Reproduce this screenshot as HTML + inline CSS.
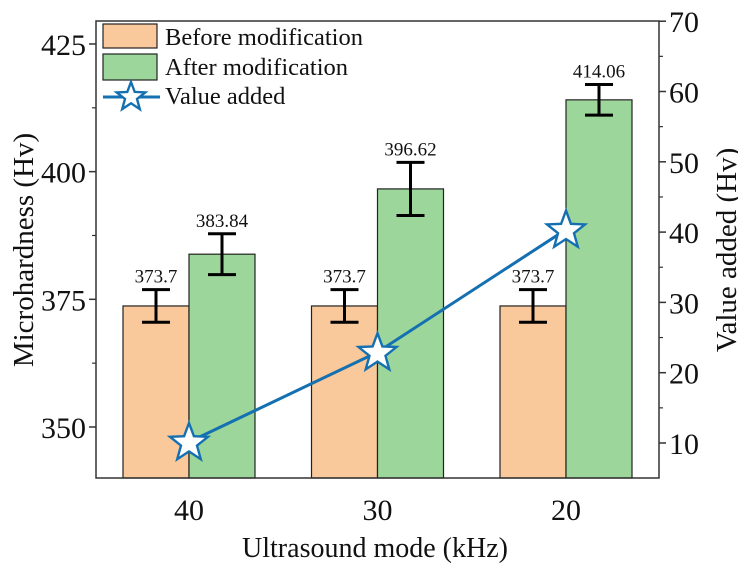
<!DOCTYPE html>
<html><head><meta charset="utf-8"><style>
body{margin:0;background:#fff}
svg{display:block;font-family:"Liberation Serif",serif}
</style></head><body>
<svg id="c" width="738" height="567"></svg>
<script>
const categories=["40","30","20"];
const before=[373.7,373.7,373.7];
const beforeErr=[3.2,3.2,3.2];
const after=[383.84,396.62,414.06];
const afterErr=[4,5.2,3];
const added=[10.14,22.92,40.36];
const leftTicks=[350,375,400,425];
const rightTicks=[10,20,30,40,50,60,70];
const NS="http://www.w3.org/2000/svg";
const svg=document.getElementById('c');
const L=96,R=659,T=21,B=478;
const yL=v=>427-(v-350)*5.107;
const yR=v=>443-(v-10)*7.03;
const xC=i=>189+i*188.5;
const bw=66;
function el(tag,attrs,parent){const e=document.createElementNS(NS,tag);for(const k in attrs)e.setAttribute(k,attrs[k]);(parent||svg).appendChild(e);return e;}
function txt(s,attrs){const e=el('text',attrs);e.textContent=s;return e;}
categories.forEach((c,i)=>{
 const x=xC(i);
 let b=el('rect',{x:x-bw,y:yL(before[i]),width:bw,height:B-yL(before[i]),fill:'#f9c89b',stroke:'#222','stroke-width':1.2});
 
 
 let a=el('rect',{x:x,y:yL(after[i]),width:bw,height:B-yL(after[i]),fill:'#9dd69b',stroke:'#222','stroke-width':1.2});
 
 
 [[x-bw/2,before[i],beforeErr[i],'before'],[x+bw/2,after[i],afterErr[i],'after']].forEach(([cx,v,e,n])=>{
  const g=el('g',{stroke:'#000','stroke-width':3,fill:'none'});
  
  
  el('line',{x1:cx,x2:cx,y1:yL(v+e),y2:yL(v-e)},g);
  el('line',{x1:cx-14,x2:cx+14,y1:yL(v+e),y2:yL(v+e)},g);
  el('line',{x1:cx-14,x2:cx+14,y1:yL(v-e),y2:yL(v-e)},g);
  const t=txt(String(v),{x:cx,y:yL(v+e)-7,'text-anchor':'middle','font-size':19,fill:'#111'});
  
  
 });
 const xl=txt(c,{x:x,y:B+42,'text-anchor':'middle','font-size':30,fill:'#111'});
 
 
});
const fr=el('rect',{x:L,y:T,width:R-L,height:B-T,fill:'none',stroke:'#333','stroke-width':1.5});


leftTicks.forEach(v=>{
 el('line',{x1:L-7,x2:L,y1:yL(v),y2:yL(v),stroke:'#333','stroke-width':1.5});
 el('line',{x1:L-4,x2:L,y1:yL(v+12.5),y2:yL(v+12.5),stroke:'#333','stroke-width':1.2});
 const t=txt(String(v),{x:L-10,y:yL(v)+11,'text-anchor':'end','font-size':30,fill:'#111'});
 
 
});
rightTicks.forEach(v=>{
 el('line',{x1:R,x2:R+7,y1:yR(v),y2:yR(v),stroke:'#333','stroke-width':1.5});
 if(v<70)el('line',{x1:R,x2:R+4,y1:yR(v+5),y2:yR(v+5),stroke:'#333','stroke-width':1.2});
 const t=txt(String(v),{x:R+10,y:yR(v)+11,'text-anchor':'start','font-size':30,fill:'#111'});
 
 
});
const pts=added.map((v,i)=>[xC(i),yR(v)]);
const pl=el('polyline',{points:pts.map(p=>p.join(',')).join(' '),fill:'none',stroke:'#1470b0','stroke-width':3});


function star(cx,cy,r){let s=[];for(let k=0;k<10;k++){const a=-Math.PI/2+k*Math.PI/5;const rr=k%2?r*0.42:r;s.push((cx+rr*Math.cos(a)).toFixed(1)+','+(cy+rr*Math.sin(a)).toFixed(1));}return s.join(' ');}
pts.forEach((p,i)=>{
 const s=el('polygon',{points:star(p[0],p[1]+1,20),fill:'#fff',stroke:'#1470b0','stroke-width':2.4});
 
 
});
const lg=el('g',{});


el('rect',{x:103,y:24,width:54,height:24,fill:'#f9c89b',stroke:'#222','stroke-width':1.2},lg);
el('rect',{x:103,y:54,width:54,height:26,fill:'#9dd69b',stroke:'#222','stroke-width':1.2},lg);
el('line',{x1:103,x2:160,y1:97,y2:97,stroke:'#1470b0','stroke-width':3},lg);
el('polygon',{points:star(131,97,15),fill:'#fff',stroke:'#1470b0','stroke-width':2.4},lg);
[['Before modification',45],['After modification',75],['Value added',104]].forEach(([s,y])=>{
 const t=el('text',{x:165,y:y,'font-size':24.5,fill:'#111'},lg);t.textContent=s;
});
const yt=txt('Microhardness (Hv)',{transform:'translate(33,250) rotate(-90)','text-anchor':'middle','font-size':29,fill:'#111'});


const yt2=txt('Value added (Hv)',{transform:'translate(736,250) rotate(-90)','text-anchor':'middle','font-size':29,fill:'#111'});


const xt=txt('Ultrasound mode (kHz)',{x:375,y:557,'text-anchor':'middle','font-size':28,fill:'#111'});


</script>
</body></html>
